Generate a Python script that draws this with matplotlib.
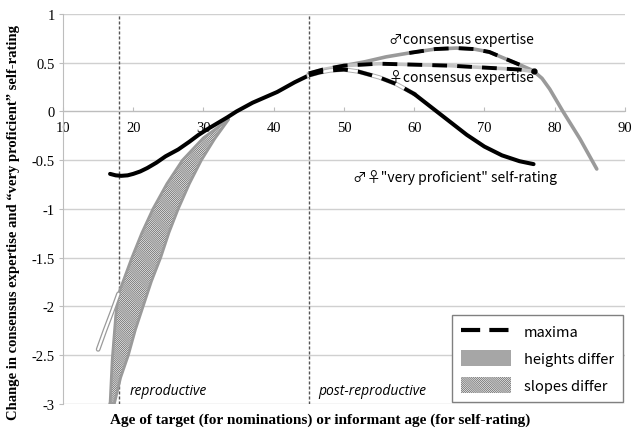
import matplotlib
matplotlib.use("Agg")
import matplotlib.pyplot as plt
from matplotlib.lines import Line2D
from matplotlib.patches import Patch
import numpy as np

# Self-rating curve ("very proficient"), both sexes
self_age = [16.7, 17.5, 18.3, 19.2, 20, 21, 22, 23.3, 24.6, 26.4, 28, 29.3,
            30.6, 32, 33.4, 34.7, 37, 40.5, 43, 45, 46.5, 48, 50, 52, 55,
            57.5, 60, 62.5, 65, 67.5, 70, 72.5, 75, 77]
self_val = [-0.64, -0.655, -0.66, -0.655, -0.64, -0.615, -0.58, -0.525, -0.46,
            -0.39, -0.31, -0.24, -0.18, -0.12, -0.06, 0.0, 0.09, 0.2, 0.3,
            0.37, 0.40, 0.42, 0.43, 0.41, 0.35, 0.28, 0.18, 0.04, -0.10,
            -0.24, -0.36, -0.45, -0.51, -0.54]

# Male consensus expertise
male_age = [15, 16, 17, 17.9, 19.8, 21.2, 22.8, 24.8, 27, 30, 33.6, 37, 41,
            45, 47, 50, 53, 56, 59.3, 63, 66, 68.5, 70.7, 73, 75, 76.9, 78.2,
            79.3, 81.1, 83.6, 86]
male_val = [-2.44, -2.24, -2.05, -1.87, -1.5, -1.25, -1.0, -0.74, -0.5,
            -0.27, -0.08, 0.08, 0.25, 0.39, 0.42, 0.47, 0.51, 0.56, 0.60,
            0.64, 0.65, 0.64, 0.61, 0.54, 0.48, 0.42, 0.34, 0.23, 0.01,
            -0.28, -0.59]

# Female consensus expertise
female_age = [17.3, 18.2, 19.3, 20.3, 21.4, 22.6, 23.9, 25.1, 26.4, 28,
              29.7, 31.6, 33.6, 37, 41, 45, 47, 50, 55, 60, 65, 70, 75, 77]
female_val = [-3.0, -2.73, -2.5, -2.24, -2.0, -1.74, -1.5, -1.24, -1.0,
              -0.74, -0.5, -0.28, -0.08, 0.08, 0.25, 0.39, 0.43, 0.47, 0.49,
              0.48, 0.47, 0.45, 0.43, 0.41]

# Lower-left edge of the "slopes differ" region
edge_age = [16.7, 17.0, 17.5, 17.9]
edge_val = [-3.0, -2.55, -2.1, -1.87]

phase_bounds = [18, 45]
x_ticks = [10, 20, 30, 40, 50, 60, 70, 80, 90]
y_ticks = [1, 0.5, 0, -0.5, -1, -1.5, -2, -2.5, -3]
y_tick_labels = ["1", "0.5", "0", "-0.5", "-1", "-1.5", "-2", "-2.5", "-3"]

SERIF = "Liberation Serif"
SANS = ["Noto Sans CJK KR", "DejaVu Sans"]
ITALIC = "Open Sans"
HATCH = "\\" * 16
plt.rcParams["hatch.linewidth"] = 0.6

fig = plt.figure(figsize=(6.32, 4.31), dpi=100)
ax = fig.add_axes([0.0997, 0.0603, 0.889, 0.905])
ax.set_xlim(10, 90)
ax.set_ylim(-3, 1)

# grid and axes
for yv in y_ticks:
    ax.axhline(yv, color="#d0d0d0", lw=1.0, zorder=0)
ax.spines["top"].set_visible(False)
ax.spines["right"].set_visible(False)
ax.spines["left"].set_color("#bdbdbd")
ax.spines["bottom"].set_position(("data", 0))
ax.spines["bottom"].set_color("#bdbdbd")
ax.set_xticks(x_ticks)
ax.set_xticklabels([str(v) for v in x_ticks], fontfamily=SERIF, fontsize=10.5)
ax.set_yticks(y_ticks)
ax.set_yticklabels(y_tick_labels, fontfamily=SERIF, fontsize=10.5)
ax.tick_params(axis="x", direction="in", length=3, color="#bdbdbd", pad=7)
ax.tick_params(axis="y", direction="out", length=3, color="#bdbdbd", pad=3)

# phase boundaries
for xb in phase_bounds:
    ax.axvline(xb, color="#555555", lw=1.0, ls=(0, (2.2, 1.4)), zorder=1)

ma = np.array(male_age); mv = np.array(male_val)
fa = np.array(female_age); fv = np.array(female_val)
sa = np.array(self_age); sv = np.array(self_val)

# "slopes differ" region between the sexes
band_lo, band_hi = 17.9, 33.6
up = (ma >= band_lo) & (ma <= band_hi)
lo = (fa <= band_hi)
poly_x = list(edge_age) + list(ma[up])[1:] + list(fa[lo][::-1])
poly_y = list(edge_val) + list(mv[up])[1:] + list(fv[lo][::-1])
ax.fill(poly_x, poly_y, facecolor="white", edgecolor="#6e6e6e",
        hatch=HATCH, lw=0, zorder=2)
ax.plot(poly_x + [poly_x[0]], poly_y + [poly_y[0]], color="#9a9a9a", lw=2.0,
        zorder=3, solid_joinstyle="round")

# male: hollow early segment, gray later segment
m_early = ma <= band_lo
ax.plot(ma[m_early], mv[m_early], color="#9a9a9a", lw=3.4,
        solid_capstyle="round", zorder=3)
ax.plot(ma[m_early], mv[m_early], color="white", lw=1.6,
        solid_capstyle="round", zorder=3)
m_late = ma >= 45
ax.plot(ma[m_late], mv[m_late], color="#9a9a9a", lw=2.6,
        solid_capstyle="round", zorder=3)
m_max = (ma >= 57) & (ma <= 75)
ax.plot(ma[m_max], mv[m_max], color="black", lw=2.8,
        dashes=(3.8, 2.6), zorder=5)

# female: light gray later segment with maxima dashes
f_late = fa >= 45
ax.plot(fa[f_late], fv[f_late], color="#c4c4c4", lw=2.6, zorder=3)
ax.plot(fa[f_late], fv[f_late], color="black", lw=2.8,
        dashes=(3.8, 2.6), zorder=5)
ax.plot(fa[-1], fv[-1], "o", color="black", ms=3.5, zorder=5)

# self-rating
s1 = sa <= 45.5
s2 = (sa >= 45) & (sa <= 60)
s3 = sa >= 60
ax.plot(sa[s1], sv[s1], color="black", lw=2.9, solid_capstyle="round",
        zorder=4)
ax.plot(sa[s2], sv[s2], color="#b0b0b0", lw=3.2, zorder=4)
ax.plot(sa[s2], sv[s2], color="white", lw=1.8, zorder=4)
ax.plot(sa[s2], sv[s2], color="black", lw=2.8, dashes=(3.8, 2.6), zorder=5)
ax.plot(sa[s3], sv[s3], color="black", lw=2.9, solid_capstyle="round",
        zorder=4)

# curve labels
ax.text(66.8, 0.745, "\u2642consensus expertise", ha="center", va="center",
        family=SANS, fontsize=10, zorder=6)
ax.text(66.8, 0.355, "\u2640consensus expertise", ha="center", va="center",
        family=SANS, fontsize=10, zorder=6)
ax.text(65.8, -0.67, "\u2642\u2640\"very proficient\" self-rating",
        ha="center", va="center", family=SANS, fontsize=10, zorder=6)
ax.text(19.5, -2.86, "reproductive", ha="left", va="center", family=ITALIC,
        style="italic", fontsize=10, zorder=6)
ax.text(46.3, -2.86, "post-reproductive", ha="left", va="center",
        family=ITALIC, style="italic", fontsize=10, zorder=6)

# axis titles
fig.text(0.507, 0.026, "Age of target (for nominations) or informant age (for self-rating)",
         ha="center", va="center", family=SERIF, weight="bold", fontsize=11)
fig.text(0.022, 0.483, "Change in consensus expertise and \u201cvery proficient\u201d self-rating",
         ha="center", va="center", rotation=90, family=SERIF, weight="bold",
         fontsize=10.5)

# legend
handles = [
    Line2D([], [], color="black", lw=3, dashes=(4.6, 2.2)),
    Patch(facecolor="#a6a6a6", edgecolor="none"),
    Patch(facecolor="white", edgecolor="#6e6e6e", hatch=HATCH, lw=0),
]
labels = ["maxima", "heights differ", "slopes differ"]
leg = ax.legend(handles, labels, loc="lower right", bbox_to_anchor=(1.0, 0.0),
                prop={"family": SANS, "size": 10.5}, frameon=True,
                fancybox=False, edgecolor="#808080", framealpha=1,
                handlelength=3.4, handleheight=1.3, labelspacing=0.75,
                borderpad=0.6, handletextpad=0.9, borderaxespad=0.15)
leg.get_frame().set_linewidth(1.0)
leg.set_zorder(7)

fig.savefig("out.png", dpi=100)
